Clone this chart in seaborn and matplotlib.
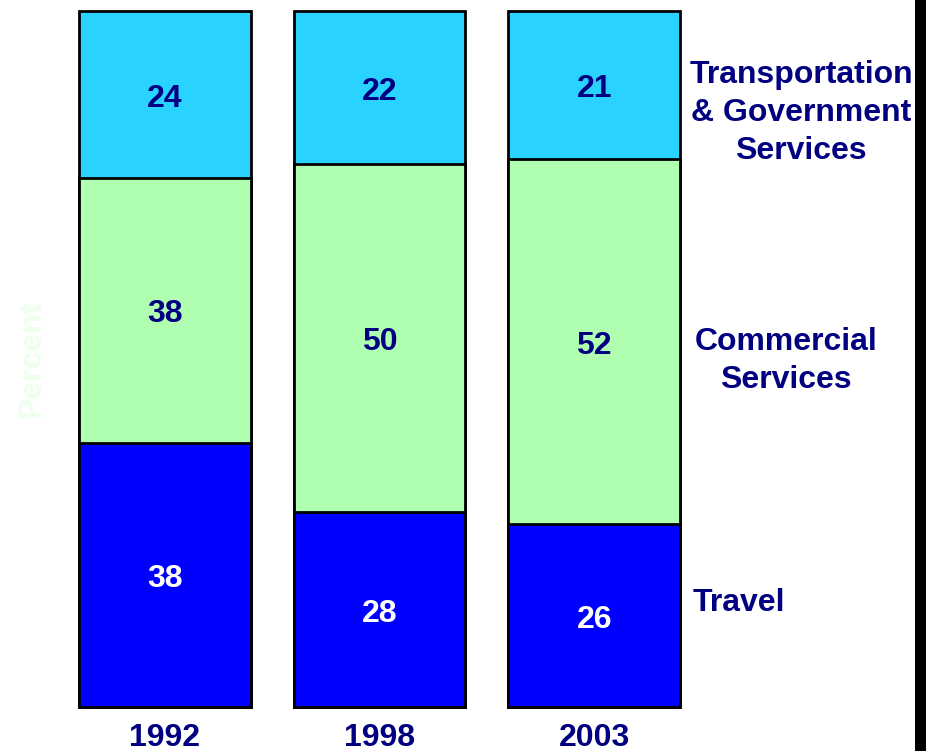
import numpy as np
import pandas as pd
import matplotlib
matplotlib.use("Agg")
import matplotlib.pyplot as plt
import seaborn as sns
from matplotlib.patches import Rectangle

years = ["1992", "1998", "2003"]
travel = [38, 28, 26]
commercial = [38, 50, 52]
transport = [24, 22, 21]
series_names = ["Travel", "Commercial\nServices", "Transportation\n& Government\nServices"]

sns.set_theme(style="white")
plt.rcParams['font.family'] = ['Liberation Sans', 'DejaVu Sans']

NAVY = "#000080"
colors = ["#0000FF", "#B0FFB0", "#29D2FF"]

tr = np.array(travel, float)
co = np.array(commercial, float)
tp = np.array(transport, float)
tot = tr + co + tp
s_tr = tr / tot * 100
s_co = co / tot * 100
s_tp = tp / tot * 100

cum1 = s_tr
cum2 = s_tr + s_co
cum3 = cum2 + s_tp

fig = plt.figure(figsize=(9.26, 7.51), dpi=100)
ax = fig.add_axes([79/926, 44/751, 601/926, 696/751])

df = pd.DataFrame({"year": years, "c1": cum1, "c2": cum2, "c3": cum3})
for col, colr in zip(["c3", "c2", "c1"], colors[::-1]):
    sns.barplot(data=df, x="year", y=col, order=years, color=colr, width=0.8,
                edgecolor="black", linewidth=2.0, saturation=1, ax=ax)
for p in ax.patches:
    p.set_clip_on(False)

ax.set_xlim(-0.4, 2.4)
ax.set_ylim(0, 100)
for s in ax.spines.values():
    s.set_visible(False)
ax.set_yticks([])
ax.set_xticks([])
ax.set_xlabel("")
ax.set_ylabel("")

fs = 23
dy = -0.6
for i in range(3):
    ax.text(i, s_tr[i] / 2 + dy, str(travel[i]), ha="center", va="center",
            color="white", fontsize=fs, fontweight="bold")
    ax.text(i, cum1[i] + s_co[i] / 2 + dy, str(commercial[i]), ha="center", va="center",
            color=NAVY, fontsize=fs, fontweight="bold")
    ax.text(i, cum2[i] + s_tp[i] / 2 + dy, str(transport[i]), ha="center", va="center",
            color=NAVY, fontsize=fs, fontweight="bold")
    ax.text(i, -4.4, years[i], ha="center", va="center", color=NAVY,
            fontsize=fs, fontweight="bold", clip_on=False)

# right-side series labels
fig.text(739/926, 1 - 603/751, series_names[0], ha="center", va="center",
         color=NAVY, fontsize=fs, fontweight="bold")
fig.text(786/926, 1 - 361/751, series_names[1], ha="center", va="center",
         color=NAVY, fontsize=fs, fontweight="bold", linespacing=1.33)
fig.text(801/926, 1 - 113/751, series_names[2], ha="center", va="center",
         color=NAVY, fontsize=fs, fontweight="bold", linespacing=1.33)

fig.text(32/926, 1 - 358/751, "Percent", rotation=90, ha="center", va="center",
         color="#EEFFEE", fontsize=fs, fontweight="bold")

fig.patches.append(Rectangle((915/926, 0), 11/926, 1, transform=fig.transFigure,
                             facecolor="black", edgecolor="none"))

fig.savefig("out.png", dpi=100, facecolor="white")
